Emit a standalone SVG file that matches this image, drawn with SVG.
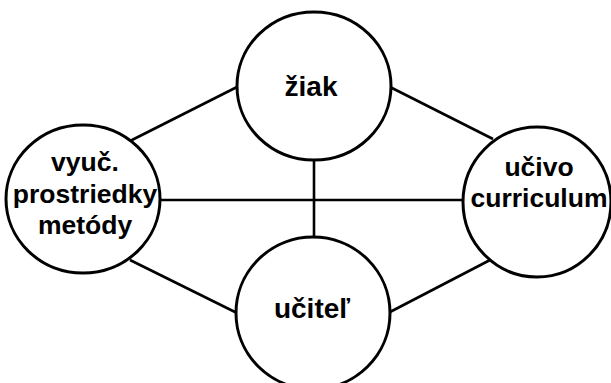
<svg xmlns="http://www.w3.org/2000/svg" width="611" height="383" viewBox="0 0 611 383">
<style>
.node{fill:#fff;stroke:#000;stroke-width:3}
.edge{stroke:#000;stroke-width:2.6;fill:none}
.lbl{font-family:"Liberation Sans",Arial,sans-serif;font-weight:bold;font-size:26.5px;fill:#000;text-anchor:middle}
</style>
<rect width="611" height="383" fill="#fff"/>
<g id="connectors">
<line class="edge" x1="130" y1="141" x2="237" y2="87"/>
<line class="edge" x1="390" y1="87" x2="493" y2="139"/>
<line class="edge" x1="130" y1="260" x2="237" y2="313"/>
<line class="edge" x1="390" y1="312" x2="492" y2="259"/>
<line class="edge" x1="160" y1="200" x2="463" y2="200"/>
<line class="edge" x1="314" y1="160" x2="314" y2="238"/>
</g>
<g id="ziak">
<ellipse class="node" cx="314" cy="86" rx="77" ry="74"/>
<text class="lbl" x="311" y="96" style="font-size:28px">žiak</text>
</g>
<g id="prostriedky">
<ellipse class="node" cx="83" cy="199" rx="77" ry="74"/>
<text class="lbl" x="85" y="171">vyuč.</text>
<text class="lbl" x="85" y="203">prostriedky</text>
<text class="lbl" x="85" y="234">metódy</text>
</g>
<g id="ucivo">
<ellipse class="node" cx="537" cy="202" rx="74" ry="75"/>
<text class="lbl" x="539" y="176">učivo</text>
<text class="lbl" x="539" y="207">curriculum</text>
</g>
<g id="ucitel">
<ellipse class="node" cx="313" cy="313" rx="77" ry="76"/>
<text class="lbl" x="312" y="318" style="font-size:28px">učiteľ</text>
</g>
</svg>
